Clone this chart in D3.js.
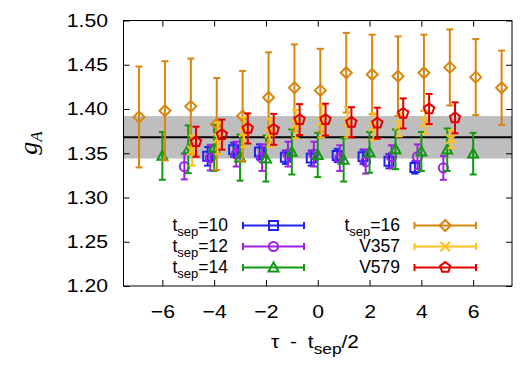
<!DOCTYPE html>
<html><head><meta charset="utf-8">
<script src="https://cdn.jsdelivr.net/npm/d3@7"></script>
<style>body{margin:0;background:#fff}svg{display:block}</style>
</head><body><div id="chart"></div>
<script>
// ---- data ----
const xTicks = [-6, -4, -2, 0, 2, 4, 6];
const yTicks = [1.20, 1.25, 1.30, 1.35, 1.40, 1.45, 1.50];
const bandLow = 1.344, bandHigh = 1.392, bandCentral = 1.368;

const tsep10X = [-4,-3,-2,-1,0,1,2,3,4];
const tsep10Y = [1.3465,1.354,1.3515,1.3455,1.3445,1.3475,1.346,1.341,1.334];
const tsep10E = [0.0105,0.008,0.0085,0.0075,0.0085,0.0075,0.008,0.008,0.007];

const tsep12X = [-5,-4,-3,-2,-1,0,1,2,3,4,5];
const tsep12Y = [1.335,1.345,1.349,1.345,1.349,1.349,1.3445,1.3405,1.346,1.346,1.3335];
const tsep12E = [0.0145,0.0145,0.014,0.015,0.014,0.014,0.0145,0.0135,0.013,0.014,0.0135];

const tsep14X = [-6,-5,-4,-3,-2,-1,0,1,2,3,4,5,6];
const tsep14Y = [1.347,1.3545,1.356,1.345,1.344,1.3515,1.348,1.3425,1.351,1.3545,1.352,1.354,1.3495];
const tsep14E = [0.027,0.027,0.026,0.026,0.026,0.0255,0.025,0.0245,0.023,0.0225,0.022,0.024,0.0235];

const tsep16X = [-7,-6,-5,-4,-3,-2,-1,0,1,2,3,4,5,6,7];
const tsep16Y = [1.391,1.398,1.403,1.383,1.392,1.413,1.424,1.421,1.441,1.439,1.437,1.441,1.447,1.436,1.424];
const tsep16E = [0.057,0.056,0.054,0.052,0.051,0.051,0.049,0.047,0.045,0.045,0.045,0.043,0.043,0.043,0.042];

const v357X = [-5,-4,-3,-2,-1,0,1,2,3,4,5];
const v357Y = [1.353,1.367,1.374,1.373,1.383,1.386,1.385,1.380,1.382,1.385,1.366];
const v357E = [0.017,0.018,0.017,0.016,0.016,0.018,0.017,0.015,0.013,0.013,0.010];

const v579X = [-5,-4,-3,-2,-1,0,1,2,3,4,5];
const v579Y = [1.363,1.371,1.378,1.377,1.388,1.388,1.385,1.384,1.395,1.400,1.390];
const v579E = [0.017,0.017,0.017,0.0175,0.0175,0.018,0.017,0.0175,0.017,0.017,0.0175];

const seriesLabels = ["10", "12", "14", "16", "V357", "V579"];

// ---- styling / layout ----
const W = 525, H = 367;
const M = {left: 123.5, right: 13, top: 20.5, bottom: 81};
const SANS = "'Liberation Sans', Arial, Helvetica, sans-serif";
const styles = [
  {x: tsep10X, y: tsep10Y, e: tsep10E, color: "#2222ee", sym: "square", shift: -0.25, col: 0, row: 0, sub: true},
  {x: tsep12X, y: tsep12Y, e: tsep12E, color: "#a020e8", sym: "circle", shift: -0.15, col: 0, row: 1, sub: true},
  {x: tsep14X, y: tsep14Y, e: tsep14E, color: "#119a11", sym: "triangle", shift: 0.0, col: 0, row: 2, sub: true},
  {x: tsep16X, y: tsep16Y, e: tsep16E, color: "#d8860f", sym: "diamond", shift: 0.1, col: 1, row: 0, sub: true},
  {x: v357X, y: v357Y, e: v357E, color: "#ffc020", sym: "cross", shift: 0.15, col: 1, row: 1, sub: false},
  {x: v579X, y: v579Y, e: v579E, color: "#e00000", sym: "pentagon", shift: 0.3, col: 1, row: 2, sub: false}
];

const svg = d3.select("#chart").append("svg").attr("width", W).attr("height", H)
  .style("font-family", SANS);
const x = d3.scaleLinear().domain([-7.5, 7.5]).range([M.left, W - M.right]);
const y = d3.scaleLinear().domain([1.20, 1.50]).range([H - M.bottom, M.top]);

// band + central line
svg.append("rect").attr("x", x(-7.5)).attr("width", x(7.5) - x(-7.5))
  .attr("y", y(bandHigh)).attr("height", y(bandLow) - y(bandHigh)).attr("fill", "#bebebe");
svg.append("line").attr("x1", x(-7.5)).attr("x2", x(7.5)).attr("y1", y(bandCentral)).attr("y2", y(bandCentral))
  .attr("stroke", "#000").attr("stroke-width", 2);

function symPath(type) {
  const p = d3.path();
  if (type === "square") { const s = 4.5; p.rect(-s, -s, 2*s, 2*s); }
  else if (type === "circle") { p.arc(0, 0, 4.6, 0, 2*Math.PI); p.closePath(); }
  else if (type === "triangle") { const s = 5.2; p.moveTo(0, -s); p.lineTo(s*0.95, s*0.75); p.lineTo(-s*0.95, s*0.75); p.closePath(); }
  else if (type === "diamond") { const s = 5.5; p.moveTo(0, -s); p.lineTo(s, 0); p.lineTo(0, s); p.lineTo(-s, 0); p.closePath(); }
  else if (type === "cross") { const s = 4.8; p.moveTo(-s, -s); p.lineTo(s, s); p.moveTo(s, -s); p.lineTo(-s, s); }
  else if (type === "pentagon") {
    const r = 5.4;
    for (let i = 0; i < 5; i++) { const a = -Math.PI/2 + i*2*Math.PI/5; const px = r*Math.cos(a), py = r*Math.sin(a); i ? p.lineTo(px, py) : p.moveTo(px, py); }
    p.closePath();
  }
  return p.toString();
}

const cap = 3.5;
styles.forEach(s => {
  const g = svg.append("g").attr("stroke", s.color).attr("fill", "none");
  const data = s.x.map((v, i) => ({x: v + s.shift, y: s.y[i], e: s.e[i]}));
  const pts = g.selectAll("g.pt").data(data).join("g").attr("class", "pt");
  pts.append("line").attr("x1", d => x(d.x)).attr("x2", d => x(d.x))
    .attr("y1", d => y(d.y + d.e)).attr("y2", d => y(d.y - d.e)).attr("stroke-width", 2);
  pts.append("line").attr("x1", d => x(d.x) - cap).attr("x2", d => x(d.x) + cap)
    .attr("y1", d => y(d.y + d.e)).attr("y2", d => y(d.y + d.e)).attr("stroke-width", 2);
  pts.append("line").attr("x1", d => x(d.x) - cap).attr("x2", d => x(d.x) + cap)
    .attr("y1", d => y(d.y - d.e)).attr("y2", d => y(d.y - d.e)).attr("stroke-width", 2);
  pts.append("path").attr("d", symPath(s.sym)).attr("stroke-width", 2)
    .attr("transform", d => `translate(${x(d.x)},${y(d.y)})`);
});

// frame
svg.append("rect").attr("x", x(-7.5)).attr("y", y(1.5)).attr("width", x(7.5) - x(-7.5)).attr("height", y(1.2) - y(1.5))
  .attr("fill", "none").attr("stroke", "#000").attr("stroke-width", 1);

// axes (inward ticks, mirrored)
const fs = 18.6, sx = 1.14;
const axB = svg.append("g").attr("transform", `translate(0,${y(1.2)})`)
  .call(d3.axisBottom(x).tickValues(xTicks).tickSize(-6).tickPadding(18.5).tickFormat(d3.format("d")));
const axT = svg.append("g").attr("transform", `translate(0,${y(1.5)})`)
  .call(d3.axisTop(x).tickValues(xTicks).tickSize(-6).tickFormat(""));
const axL = svg.append("g").attr("transform", `translate(${x(-7.5)},0)`)
  .call(d3.axisLeft(y).tickValues(yTicks).tickSize(-6).tickPadding(15.5).tickFormat(d3.format(".2f")));
const axR = svg.append("g").attr("transform", `translate(${x(7.5)},0)`)
  .call(d3.axisRight(y).tickValues(yTicks).tickSize(-6).tickFormat(""));
[axB, axT, axL, axR].forEach(a => {
  a.select(".domain").remove();
  a.selectAll(".tick line").attr("stroke", "#000").attr("stroke-width", 1);
  a.selectAll("text").attr("font-size", fs).attr("font-family", null).attr("fill", "#000")
    .each(function() {
      const t = d3.select(this);
      const tx = +t.attr("x") || 0;
      t.attr("x", tx / sx).attr("transform", `scale(${sx},1)`);
    });
});

// axis titles
const xt = svg.append("text").attr("transform", "translate(315,348) scale(1.12,1)").attr("text-anchor", "middle")
  .attr("font-size", fs).attr("fill", "#000").attr("word-spacing", 4.5).attr("xml:space", "preserve");
xt.append("tspan").text("τ - t");
xt.append("tspan").attr("font-size", 15.5).attr("dy", 5.5).text("sep");
xt.append("tspan").attr("dy", -5.5).text("/2");

const yt = svg.append("text").attr("transform", "translate(37,143) rotate(-90)").attr("text-anchor", "middle")
  .style("font-family", "'Liberation Serif', 'Times New Roman', serif").attr("font-style", "italic")
  .attr("font-size", 26).attr("fill", "#000");
yt.append("tspan").text("g");
yt.append("tspan").attr("font-size", 17).attr("dy", 5).text("A");

// legend
const legCols = [{textX: 228, x1: 243, x2: 304}, {textX: 400, x1: 414.5, x2: 476}];
const legRows = [225.5, 246.5, 267.5];
const lfs = 17.5;
styles.forEach((s, i) => {
  const c = legCols[s.col], ly = legRows[s.row];
  const t = svg.append("text").attr("x", c.textX).attr("y", ly + 5.5).attr("text-anchor", "end")
    .attr("font-size", lfs).attr("fill", "#000");
  if (s.sub) {
    t.append("tspan").text("t");
    t.append("tspan").attr("font-size", 13).attr("dy", 4.5).text("sep");
    t.append("tspan").attr("dy", -4.5).text("=" + seriesLabels[i]);
  } else {
    t.text(seriesLabels[i]);
  }
  const g = svg.append("g").attr("stroke", s.color).attr("fill", "none").attr("stroke-width", 2);
  g.append("line").attr("x1", c.x1).attr("x2", c.x2).attr("y1", ly).attr("y2", ly);
  g.append("line").attr("x1", c.x1).attr("x2", c.x1).attr("y1", ly - cap).attr("y2", ly + cap);
  g.append("line").attr("x1", c.x2).attr("x2", c.x2).attr("y1", ly - cap).attr("y2", ly + cap);
  g.append("path").attr("d", symPath(s.sym)).attr("transform", `translate(${(c.x1 + c.x2) / 2},${ly})`);
});
</script></body></html>
